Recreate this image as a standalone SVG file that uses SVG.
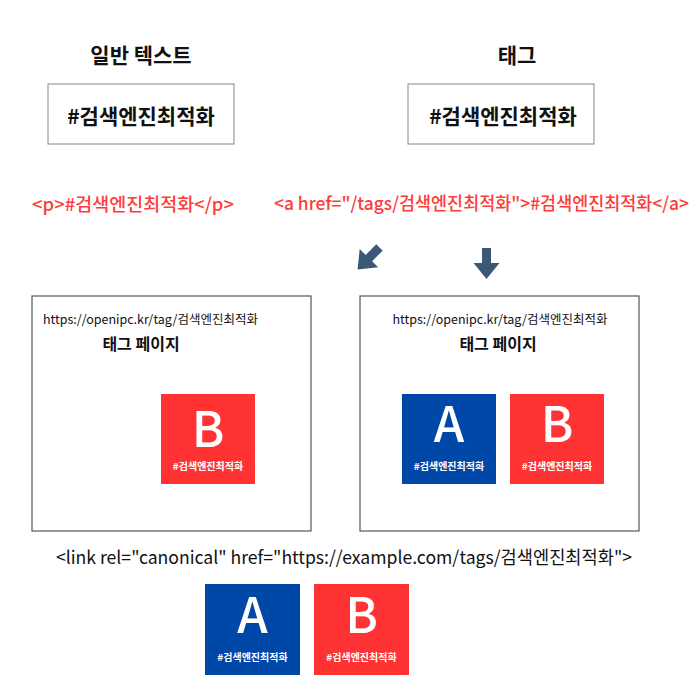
<svg xmlns="http://www.w3.org/2000/svg" width="700" height="700" viewBox="0 0 700 700">
<style>
text{font-family:"Noto Sans CJK KR","Noto Sans",sans-serif}
.title{font-size:21px;font-weight:700;fill:#111;text-anchor:middle}
.tag{font-size:21px;font-weight:700;fill:#111;text-anchor:middle}
.code{font-size:18px;fill:#ff3b3b;font-weight:500}
.url{font-size:12.5px;fill:#111}
.page{font-size:16px;font-weight:700;fill:#111;text-anchor:middle}
.big{font-size:49px;font-weight:500;fill:#fff;text-anchor:middle}
.lbl{font-size:10px;font-weight:700;fill:#fff;text-anchor:middle}
.box{fill:#fff;stroke:#999;stroke-width:1.2}
.frame{fill:#fff;stroke:#555;stroke-width:1.2}
.blue{fill:#0048a8}
.red{fill:#ff3333}
.arrow{fill:#3b5877}
</style>
<rect width="700" height="700" fill="#fff"/>
<g id="plain">
<text class="title" x="141" y="63">일반 텍스트</text>
<rect class="box" x="48" y="84" width="186" height="60"/>
<text class="tag" x="141" y="124">#검색엔진최적화</text>
</g>
<g id="tag">
<text class="title" x="517" y="63">태그</text>
<rect class="box" x="408" y="84" width="186" height="60"/>
<text class="tag" x="503" y="124">#검색엔진최적화</text>
</g>
<g id="code-p">
<text class="code" x="32" y="211" textLength="202" lengthAdjust="spacingAndGlyphs">&lt;p&gt;#검색엔진최적화&lt;/p&gt;</text>
</g>
<g id="code-a">
<text class="code" x="274" y="210" textLength="415" lengthAdjust="spacingAndGlyphs">&lt;a href="/tags/검색엔진최적화"&gt;#검색엔진최적화&lt;/a&gt;</text>
</g>
<g id="connectors">
<polygon class="arrow" transform="translate(379.5,247.5) rotate(45)" points="-4.5,0 4.5,0 4.5,15 13,15 0,31 -13,15 -4.5,15"/>
<polygon class="arrow" transform="translate(486.5,248)" points="-4.5,0 4.5,0 4.5,15 13,15 0,31 -13,15 -4.5,15"/>
</g>
<g id="page-left">
<rect class="frame" x="32" y="296" width="279" height="235"/>
<text class="url" x="43" y="324">https://openipc.kr/tag/검색엔진최적화</text>
<text class="page" x="141" y="350">태그 페이지</text>
<g id="left-b">
<rect class="red" x="161" y="394" width="94" height="90"/>
<text class="big" x="208" y="447">B</text>
<text class="lbl" x="208" y="470">#검색엔진최적화</text>
</g>
</g>
<g id="page-right">
<rect class="frame" x="360" y="296" width="279" height="235"/>
<text class="url" x="500" y="324" text-anchor="middle">https://openipc.kr/tag/검색엔진최적화</text>
<text class="page" x="498" y="350">태그 페이지</text>
<g id="right-a">
<rect class="blue" x="402" y="394" width="94" height="90"/>
<text class="big" x="449" y="442">A</text>
<text class="lbl" x="449" y="470">#검색엔진최적화</text>
</g>
<g id="right-b">
<rect class="red" x="510" y="394" width="94" height="90"/>
<text class="big" x="557" y="442">B</text>
<text class="lbl" x="557" y="470">#검색엔진최적화</text>
</g>
</g>
<g id="canonical">
<text x="56" y="564" textLength="576" lengthAdjust="spacingAndGlyphs" style="font-size:18px;fill:#111">&lt;link rel="canonical" href="https://example.com/tags/검색엔진최적화"&gt;</text>
</g>
<g id="bottom-a">
<rect class="blue" x="205" y="584" width="95" height="91"/>
<text class="big" x="252.5" y="633">A</text>
<text class="lbl" x="252.5" y="661">#검색엔진최적화</text>
</g>
<g id="bottom-b">
<rect class="red" x="314" y="584" width="95" height="91"/>
<text class="big" x="361.5" y="633">B</text>
<text class="lbl" x="361.5" y="661">#검색엔진최적화</text>
</g>
</svg>
